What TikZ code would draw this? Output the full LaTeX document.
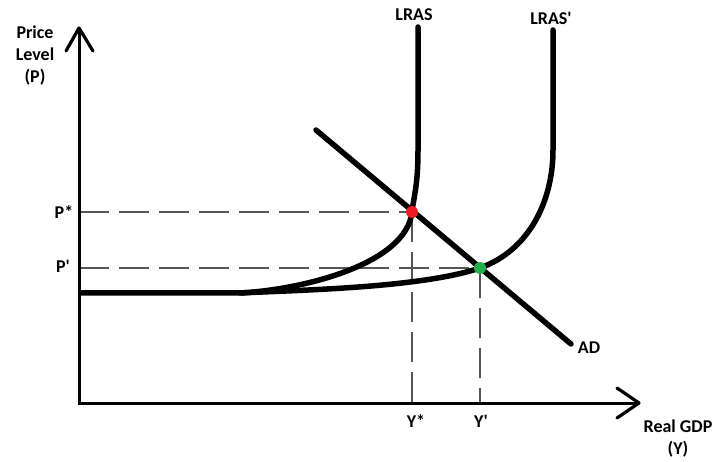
\documentclass[tikz,border=0pt]{standalone}
\usepackage{fontspec}
\setmainfont{Carlito}
\definecolor{dotred}{RGB}{237,28,36}
\definecolor{dotgreen}{RGB}{34,177,76}
\definecolor{guidegray}{RGB}{85,85,85}
\begin{document}
\begin{tikzpicture}[x=1pt,y=-1pt,
  axis/.style={line width=3pt},
  tipline/.style={line width=3.2pt, line join=round, line cap=round},
  curve/.style={line width=5.5pt, line cap=round, line join=round},
  guide/.style={line width=1.3pt, draw=guidegray, dash pattern=on 30pt off 10pt},
  lbl/.style={font=\bfseries\fontsize{18}{22}\selectfont, inner sep=0pt, anchor=base},
  dot/.style={circle, inner sep=0pt, minimum size=12pt}]
\useasboundingbox (0,0) rectangle (715,462);
% axes
\coordinate (O) at (79,403);
\coordinate (Ytip) at (79,28);
\coordinate (Xtip) at (639,403);
\coordinate (e1) at (412,212);
\coordinate (e2) at (480,268);
% guides
\draw[guide] (O |- e1) -- (e1);
\draw[guide] (O |- e2) -- (e2);
\draw[guide] (e1) -- (e1 |- O);
\draw[guide] (e2) -- (e2 |- O);
\draw[axis] (Ytip) -- (O) -- (Xtip);
\draw[tipline] (66,51) -- (Ytip) -- (93,51);
\draw[tipline] (617,388) -- (Xtip) -- (617,418);
% curves
\draw[curve] (418,27) -- (418,150) .. controls (418,185) and (414,195) .. (e1)
  .. controls (406,265) and (300,290) .. (240,293) -- (81,293);
\draw[curve] (553,30) -- (553,150) .. controls (553,200) and (530,250) .. (e2)
  .. controls (420,288) and (300,290) .. (240,293);
\coordinate (ad1) at (316,130);
\coordinate (ad2) at (571,344);
\draw[curve] (ad1) -- (ad2);
% dots
\node[dot, fill=dotred] (E1) at (e1) {};
\node[dot, fill=dotgreen] (E2) at (e2) {};
% labels
\node[lbl, anchor=north, align=center] (ylab) at (35,26) {Price\\Level\\(P)};
\node[lbl] (lras) at (414,21) {LRAS};
\node[lbl] (lras2) at (551,25) {LRAS\textquotesingle};
\node[lbl] (ad) at (589,354) {AD};
\node[lbl] (pstar) at (64,219) {P*};
\node[lbl] (pprime) at (63,273) {P\textquotesingle};
\node[lbl] (ystar) at (416,427) {Y*};
\node[lbl] (yprime) at (481,427) {Y\textquotesingle};
\node[lbl, anchor=north, align=center] (xlab) at (678,420) {Real GDP\\(Y)};
\end{tikzpicture}
\end{document}
